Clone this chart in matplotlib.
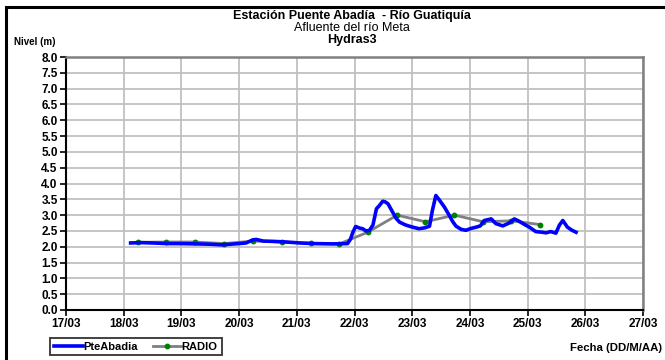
import numpy as np
import matplotlib.pyplot as plt
from matplotlib.patches import Rectangle

plt.rcParams['font.family'] = ['Liberation Sans', 'DejaVu Sans']

# PteAbadia level (day of March, metres)
pte_day = [18.12, 18.30, 18.50, 18.75, 19.00, 19.25, 19.50, 19.70, 19.85, 20.00,
           20.12, 20.24, 20.30, 20.42, 20.59, 20.82, 21.05, 21.30, 21.63, 21.88,
           21.93, 21.97, 22.02, 22.09, 22.14, 22.20, 22.26, 22.32, 22.38, 22.43,
           22.49, 22.53, 22.58, 22.66, 22.72, 22.78, 22.87, 22.95, 23.05, 23.12,
           23.22, 23.30, 23.35, 23.41, 23.47, 23.56, 23.64, 23.70, 23.76, 23.85,
           23.93, 24.02, 24.11, 24.18, 24.25, 24.37, 24.45, 24.57, 24.68, 24.77,
           24.85, 24.95, 25.03, 25.14, 25.25, 25.32, 25.40, 25.49, 25.55, 25.61,
           25.69, 25.77, 25.84]
pte_lvl = [2.12, 2.13, 2.12, 2.10, 2.10, 2.09, 2.08, 2.06, 2.08, 2.10,
           2.12, 2.22, 2.23, 2.18, 2.17, 2.15, 2.12, 2.10, 2.09, 2.10,
           2.24, 2.45, 2.64, 2.59, 2.57, 2.50, 2.52, 2.69, 3.20, 3.30,
           3.44, 3.42, 3.36, 3.10, 2.90, 2.78, 2.70, 2.65, 2.60, 2.57,
           2.60, 2.65, 3.15, 3.62, 3.48, 3.25, 3.00, 2.80, 2.65, 2.55,
           2.52, 2.58, 2.62, 2.66, 2.83, 2.88, 2.73, 2.66, 2.75, 2.88,
           2.81, 2.70, 2.62, 2.48, 2.46, 2.44, 2.48, 2.43, 2.68, 2.83,
           2.62, 2.52, 2.46]

# RADIO readings
radio_day = [18.24, 18.74, 19.24, 19.74, 20.24, 20.74, 21.24, 21.74,
             22.23, 22.74, 23.23, 23.73, 24.23, 24.72, 25.22]
radio_lvl = [2.14, 2.15, 2.15, 2.10, 2.18, 2.15, 2.11, 2.09,
             2.46, 3.00, 2.79, 3.00, 2.79, 2.82, 2.70]

xticks = list(range(17, 28))
xlabels = ['%02d/03' % d for d in xticks]

fig = plt.figure(figsize=(6.65, 3.6), dpi=100)
ax = fig.add_axes([66/665, 50/360, 577/665, 253/360])

ax.plot(radio_day, radio_lvl, color='#808080', lw=2.0, marker='o',
        ms=3.2, mfc='#008000', mec='#008000', label='RADIO', zorder=3)
ax.plot(pte_day, pte_lvl, color='#0000ff', lw=2.6, label='PteAbadia', zorder=4)

ax.set_xlim(17, 27)
ax.set_ylim(0, 8)
ax.set_xticks(xticks)
ax.set_xticklabels(xlabels)
ax.set_yticks(np.arange(0, 8.01, 0.5))
ax.set_yticklabels(['%.1f' % v for v in np.arange(0, 8.01, 0.5)])
ax.grid(True, color='#c0c0c0', lw=1.3)
ax.set_axisbelow(True)
ax.tick_params(direction='out', length=4, width=1.2, labelsize=8.5, pad=2)
for lab in ax.get_xticklabels() + ax.get_yticklabels():
    lab.set_fontweight('bold')
ax.spines['left'].set_color('black')
ax.spines['bottom'].set_color('black')
ax.spines['left'].set_linewidth(1.5)
ax.spines['bottom'].set_linewidth(1.5)
ax.spines['top'].set_color('#808080')
ax.spines['right'].set_color('#808080')
ax.spines['top'].set_linewidth(1.8)
ax.spines['right'].set_linewidth(1.8)

# outer chart border
fig.patches.append(Rectangle((6/665, -0.1), 1.2, 1.1 - 7.5/360,
                             transform=fig.transFigure, fill=False,
                             lw=2.2, ec='black'))

fig.text(352/665, 1 - 16.5/360, 'Estación Puente Abadía  - Río Guatiquía',
         ha='center', va='center', fontsize=9, fontweight='bold')
fig.text(352/665, 1 - 28/360, 'Afluente del río Meta',
         ha='center', va='center', fontsize=9)
fig.text(352/665, 1 - 39.5/360, 'Hydras3',
         ha='center', va='center', fontsize=9, fontweight='bold')
fig.text(14/665, 1 - 42/360, 'Nivel (m)', ha='left', va='center',
         fontsize=7, fontweight='bold')
fig.text(662/665, 1 - 348/360, 'Fecha (DD/M/AA)', ha='right', va='center',
         fontsize=8.2, fontweight='bold')

h, l = ax.get_legend_handles_labels()
leg = fig.legend(h[::-1], l[::-1], loc='center left',
                 bbox_to_anchor=(50/665, 1 - 346.5/360), ncol=2,
                 fontsize=8, frameon=True, fancybox=False,
                 handlelength=2.6, handletextpad=0.0, columnspacing=1.4,
                 borderpad=0.35, borderaxespad=0)
leg.get_frame().set_edgecolor('black')
leg.get_frame().set_linewidth(1.3)
for t in leg.get_texts():
    t.set_fontweight('bold')

fig.savefig('out.png', dpi=100)
